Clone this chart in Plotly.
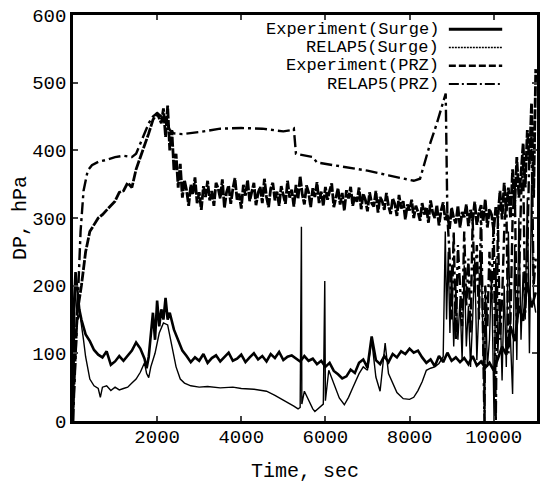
import plotly.graph_objects as go

# ---------------- data ----------------
exp_prz_t = [0, 100, 200, 300, 400, 500, 600, 700, 800, 900, 1000, 1100, 1200, 1300, 1400,
             1500, 1600, 1700, 1800, 1900, 2000, 2100, 2150, 2200, 2250, 2300, 2350, 2400,
             2450, 2500, 2550, 2600, 2650, 2700, 2750, 2800, 2850, 2900, 2950, 3000, 3050,
             3100, 3150, 3200, 3250, 3300, 3350, 3400, 3450, 3500, 3550, 3600, 3650, 3700,
             3750, 3800, 3850, 3900, 3950, 4000, 4050, 4100, 4150, 4200, 4250, 4300, 4350,
             4400, 4450, 4500, 4550, 4600, 4650, 4700, 4750, 4800, 4850, 4900, 4950, 5000,
             5050, 5100, 5150, 5200, 5250, 5300, 5350, 5400, 5450, 5500, 5550, 5600, 5650,
             5700, 5750, 5800, 5850, 5900, 5950, 6000, 6050, 6100, 6150, 6200, 6250, 6300,
             6350, 6400, 6450, 6500, 6550, 6600, 6650, 6700, 6750, 6800, 6850, 6900, 6950,
             7000, 7050, 7100, 7150, 7200, 7250, 7300, 7350, 7400, 7450, 7500, 7550, 7600,
             7650, 7700, 7750, 7800, 7850, 7900, 7950, 8000, 8050, 8100, 8150, 8200, 8250,
             8300, 8350, 8400, 8450, 8500, 8550, 8600, 8650, 8700, 8750, 8800, 8850, 8900,
             8950, 9000, 9050, 9100, 9150, 9200, 9250, 9300, 9350, 9400, 9450, 9500, 9550,
             9600, 9650, 9700, 9750, 9800, 9850, 9900, 9950, 10000, 10050, 10100, 10150,
             10200, 10250, 10300, 10350, 10400, 10450, 10500, 10550, 10600, 10650, 10700,
             10750, 10800, 10850, 10900, 10950, 11000]
exp_prz_v = [20, 160, 200, 250, 280, 290, 300, 305, 312, 318, 325, 338, 340, 352, 345,
             372, 390, 405, 425, 445, 455, 440, 462, 420, 466, 400, 430, 370,
             395, 345, 380, 330, 356, 341, 318, 349, 335, 360, 322, 338, 312,
             347, 331, 355, 326, 340, 318, 352, 344, 329, 357, 315, 338, 348,
             321, 343, 359, 327, 336, 314, 349, 333, 356, 325, 341, 352, 319,
             337, 346, 322, 358, 331, 316, 344, 352, 326, 339, 318, 347, 336,
             321, 355, 330, 342, 317, 349, 328, 362, 335, 320, 348, 338, 316,
             344, 331, 353, 322, 339, 318, 346, 327, 340, 351, 316, 333, 344,
             320, 337, 311, 341, 329, 346, 318, 332, 324, 345, 313, 336, 327,
             310, 338, 322, 317, 340, 308, 331, 325, 312, 337, 318, 306, 329,
             321, 303, 334, 314, 325, 298, 320, 311, 327, 300, 318, 309, 296,
             322, 305, 316, 293, 326, 308, 300, 319, 289, 311, 323, 297, 306,
             284, 315, 300, 292, 318, 286, 309, 301, 320, 288, 312, 296, 324,
             290, 308, 319, 295, 327, 286, 313, 305, 282, 316, 300, 340, 298,
             352, 310, 345, 300, 372, 318, 390, 330, 365, 410, 345,
             430, 380, 470, 330, 520, 430]

exp_surge_t = [0, 30, 60, 100, 150, 200, 250, 300, 400, 500, 600, 700, 800, 900, 1000,
               1100, 1200, 1300, 1400, 1500, 1600, 1700, 1750, 1800, 1850, 1900, 1950,
               2000, 2050, 2100, 2150, 2200, 2250, 2300, 2400, 2500, 2600, 2700, 2800,
               2900, 3000, 3100, 3200, 3300, 3400, 3500, 3600, 3700, 3800, 3900, 4000,
               4100, 4200, 4300, 4400, 4500, 4600, 4700, 4800, 4900, 5000, 5100, 5200,
               5300, 5400, 5500, 5600, 5700, 5800, 5900, 6000, 6100, 6200, 6300, 6400,
               6500, 6600, 6700, 6800, 6900, 7000, 7100, 7200, 7300, 7400, 7500, 7600,
               7700, 7800, 7900, 8000, 8100, 8200, 8300, 8400, 8500, 8600, 8700, 8800,
               8900, 9000, 9100, 9200, 9300, 9400, 9500, 9600, 9700, 9800, 9900, 10000,
               10100, 10200, 10300, 10400, 10500, 10600, 10700, 10800, 10900, 11000]
exp_surge_v = [0, 180, 220, 190, 165, 150, 140, 128, 118, 105, 98, 94, 103, 83, 88,
               96, 89, 97, 104, 116, 107, 92, 78, 95, 130, 160, 120,
               178, 140, 165, 150, 182, 150, 160, 135, 118, 104, 96, 87,
               94, 89, 99, 86, 93, 97, 88, 95, 101, 89, 92, 98,
               87, 94, 100, 91, 96, 88, 99, 93, 102, 90, 95, 97,
               93, 88, 96, 89, 92, 84, 89, 80, 86, 74, 69, 63,
               66, 76, 71, 86, 91, 79, 125, 90, 84, 96, 87, 99,
               94, 103, 99, 107, 101, 104, 94, 86, 91, 81, 96, 87,
               101, 89, 94, 87, 93, 84, 96, 82, 88, 79, 86, 75,
               92, 110, 98, 140, 118, 170, 148, 205, 168, 190]

relap_prz_t = [0, 60, 120, 180, 250, 350, 450, 600, 800, 1000, 1200, 1400, 1500, 1600,
               1700, 1800, 1900, 2000, 2100, 2200, 2300, 2400, 2600, 3000, 3500, 4000,
               4500, 5000, 5200, 5250, 5300, 5500, 5700, 5800, 6000, 6500, 7000, 7500,
               7900, 8100, 8250, 8350, 8500, 8650, 8800, 8860, 8900, 8950, 9000, 9050,
               9100, 9150, 9200, 9250, 9300, 9350, 9400, 9450, 9500, 9550, 9600, 9650,
               9700, 9780, 9800, 9850, 9900, 9950, 10000, 10050, 10100, 10150, 10200,
               10250, 10300, 10350, 10400, 10450, 10500, 10550, 10600, 10650, 10700,
               10750, 10800, 10850, 10900, 10950, 11000]
relap_prz_v = [0, 100, 200, 280, 340, 370, 378, 383, 386, 390, 392, 390, 395, 410,
               425, 440, 450, 455, 450, 445, 430, 425, 424, 427, 432, 433,
               432, 428, 430, 432, 395, 393, 390, 382, 380, 376, 370, 363,
               357, 355, 358, 380, 412, 440, 472, 484, 300, 250, 150, 280,
               120, 260, 200, 140, 280, 170, 240, 130, 300, 190, 260, 150,
               310, 0, 200, 140, 250, 180, 300, 0, 300, 120, 180, 280,
               330, 100, 150, 300, 350, 140, 200, 330, 380, 160, 250, 400,
               420, 200, 240]

relap_surge_t = [0, 40, 80, 120, 160, 200, 250, 300, 400, 500, 600, 650, 700, 800, 900,
                 1000, 1100, 1200, 1300, 1400, 1500, 1600, 1700, 1750, 1800, 1850, 1950,
                 2050, 2150, 2250, 2350, 2450, 2550, 2650, 2800, 3000, 3200, 3500, 3800,
                 4000, 4300, 4600, 4800, 4950, 5100, 5250, 5350, 5400, 5430, 5440, 5500,
                 5600, 5700, 5750, 5850, 5950, 5985, 6000, 6080, 6200, 6330, 6450, 6550,
                 6650, 6800, 6900, 7000, 7100, 7200, 7300, 7420, 7500, 7600, 7700, 7850,
                 8000, 8100, 8200, 8300, 8400, 8500, 8600, 8700, 8800, 8850, 8880, 8920,
                 8960, 9000, 9050, 9100, 9150, 9200, 9250, 9300, 9350, 9400, 9450, 9500,
                 9550, 9600, 9650, 9700, 9790, 9800, 9850, 9900, 9950, 10010, 10050, 10100,
                 10150, 10200, 10250, 10300, 10350, 10400, 10450, 10500, 10550, 10600,
                 10650, 10700, 10750, 10800, 10850, 10900, 10950, 11000]
relap_surge_v = [0, 200, 170, 150, 160, 145, 120, 95, 62, 52, 48, 35, 50, 52, 45,
                 50, 46, 48, 50, 56, 62, 72, 86, 70, 64, 80, 100,
                 130, 145, 142, 110, 80, 62, 56, 52, 50, 51, 49, 50,
                 48, 47, 44, 38, 33, 28, 22, 18, 20, 287, 25, 44,
                 30, 18, 14, 20, 25, 207, 30, 75, 54, 34, 24, 35,
                 49, 70, 80, 75, 120, 65, 44, 115, 70, 55, 42, 33,
                 32, 35, 45, 58, 75, 78, 80, 85, 95, 280, 150, 250,
                 130, 230, 110, 200, 120, 180, 90, 230, 110, 170, 80, 150,
                 240, 90, 160, 250, 0, 200, 80, 120, 220, 0, 240, 100,
                 180, 60, 200, 80, 280, 120, 40, 260, 90, 300, 120,
                 220, 150, 330, 100, 350, 180, 160, 250]

x_ticks = [2000, 4000, 6000, 8000, 10000]
x_tick_text = ["2000", "4000", "6000", "8000", "10000"]
y_ticks = [0, 100, 200, 300, 400, 500, 600]

series_names = ["Experiment(Surge)", "RELAP5(Surge)", "Experiment(PRZ)", "RELAP5(PRZ)"]

# ---------------- figure ----------------
FONT = "Liberation Mono, Courier New, monospace"
fig = go.Figure()

styles = [
    dict(width=2.6, dash="solid"),
    dict(width=1.4, dash="solid"),
    dict(width=2.8, dash="10px,1.5px"),
    dict(width=2.4, dash="12px,4px,3px,4px"),
]
data = [(exp_surge_t, exp_surge_v), (relap_surge_t, relap_surge_v),
        (exp_prz_t, exp_prz_v), (relap_prz_t, relap_prz_v)]

for (t, v), name, st in zip(data, series_names, styles):
    fig.add_trace(go.Scatter(x=t, y=v, mode="lines", name=name,
                             line=dict(color="black", width=st["width"], dash=st["dash"]),
                             showlegend=False))

# custom legend: text right-aligned, sample line to the right
leg_y = [0.965, 0.920, 0.875, 0.830]
leg_dash = ["solid", "2px,1px", "7px,3px", "10px,3px,2px,3px"]
leg_w = [3, 1.5, 2.5, 2]
for name, yy, d, w in zip(series_names, leg_y, leg_dash, leg_w):
    fig.add_annotation(x=0.792, y=yy, xref="paper", yref="paper", text=name,
                       showarrow=False, xanchor="right", yanchor="middle",
                       borderpad=0,
                       font=dict(family=FONT, size=17, color="black"))
    fig.add_shape(type="line", xref="paper", yref="paper", x0=0.810, x1=0.925,
                  y0=yy, y1=yy, line=dict(color="black", width=w, dash=d))

fig.update_layout(
    width=540, height=483,
    margin=dict(l=73, r=0, t=15, b=62),
    paper_bgcolor="white", plot_bgcolor="white",
    font=dict(family=FONT, size=19, color="black"),
)
fig.update_xaxes(
    range=[0, 11030], tickvals=x_ticks, ticktext=x_tick_text,
    ticks="inside", ticklen=5, tickwidth=1.5, ticklabelstandoff=-4,
    showline=True, linecolor="black", linewidth=2.5, mirror="ticks",
    showgrid=False, zeroline=False,
    title=dict(text="Time, sec", standoff=18, font=dict(family=FONT, size=20)),
    tickfont=dict(family=FONT, size=19),
)
fig.update_yaxes(
    range=[0, 600], tickvals=y_ticks, ticks="inside", ticklen=5, tickwidth=1.5,
    showline=True, linecolor="black", linewidth=2.5, mirror="ticks",
    showgrid=False, zeroline=False,
    title=dict(text="DP, hPa", standoff=0, font=dict(family=FONT, size=20)),
    tickfont=dict(family=FONT, size=19),
)

fig.write_html(
    "out.html",
    config={"displayModeBar": False},
    post_script="document.body.style.margin='0';document.body.style.overflow='hidden';",
)
